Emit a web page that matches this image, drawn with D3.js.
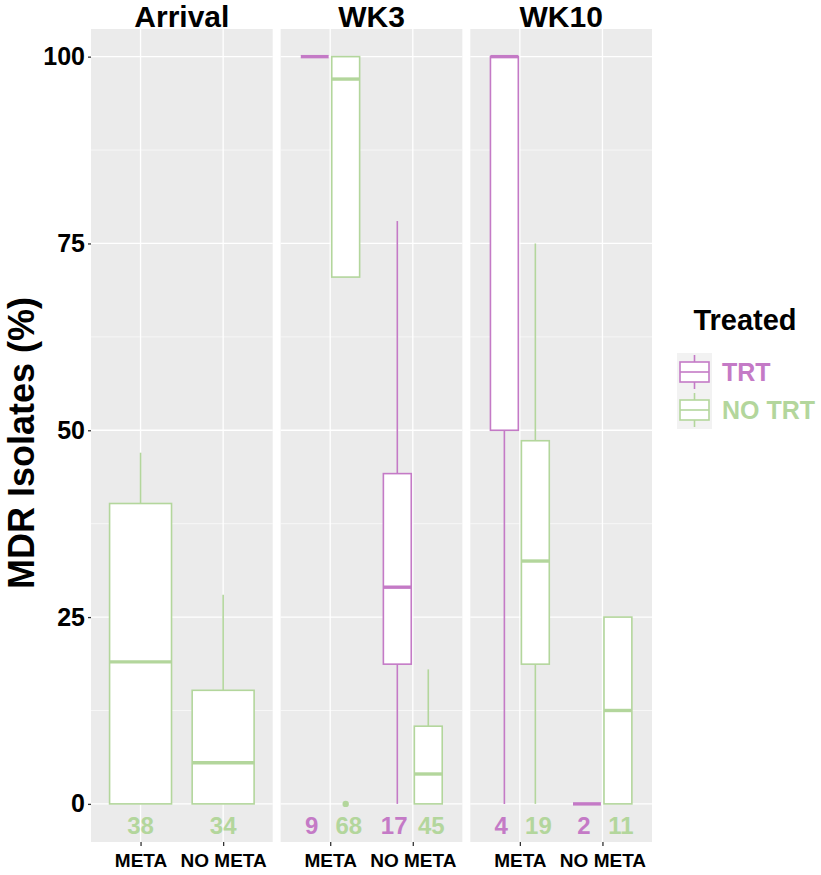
<!DOCTYPE html>
<html>
<head>
<meta charset="utf-8">
<script src="https://cdn.jsdelivr.net/npm/d3@7"></script>
<style>
  body { margin: 0; background: #fff; }
  svg text { font-family: "Liberation Sans", Arial, sans-serif; font-weight: bold; }
</style>
</head>
<body>
<div id="chart"></div>
<script>
const facets = ["Arrival", "WK3", "WK10"]
const categories = ["META", "NO META"]
const groups = ["TRT", "NO TRT"]
const yMajor = [0, 25, 50, 75, 100]
const yMinor = [12.5, 37.5, 62.5, 87.5]

// one entry per box
const boxFacet = ["Arrival", "Arrival", "WK3", "WK3", "WK3", "WK3", "WK10", "WK10", "WK10", "WK10"]
const boxCategory = ["META", "NO META", "META", "META", "NO META", "NO META", "META", "META", "NO META", "NO META"]
const boxGroup = ["NO TRT", "NO TRT", "TRT", "NO TRT", "TRT", "NO TRT", "TRT", "NO TRT", "TRT", "NO TRT"]
const boxLow = [0, 0, 100, 70.5, 0, 0, 0, 0, 0, 0]
const boxQ1 = [0, 0, 100, 70.5, 18.7, 0, 50, 18.7, 0, 0]
const boxMedian = [19, 5.5, 100, 97, 29, 4, 100, 32.5, 0, 12.5]
const boxQ3 = [40.2, 15.2, 100, 100, 44.2, 10.4, 100, 48.6, 0, 25]
const boxHigh = [47, 28, 100, 100, 78, 18, 100, 75, 0, 25]
const boxN = [38, 34, 9, 68, 17, 45, 4, 19, 2, 11]

// outliers
const outFacet = ["WK3"]
const outCategory = ["META"]
const outGroup = ["NO TRT"]
const outValue = [0]

const colors = { "TRT": "#c47ac6", "NO TRT": "#b3d69c" }

const width = 821
const height = 875

const svg = d3.select("#chart")
  .append("svg")
  .attr("width", width)
  .attr("height", height)

const facetX = d3.scaleBand()
  .domain(facets)
  .range([91, 652])
  .paddingInner(0.042)

const bw = facetX.bandwidth()

const y = d3.scaleLinear()
  .domain([-5.1, 103.7])
  .range([842, 29])

// discrete x inside a panel, ggplot style (positions 1,2 with 0.6 expansion)
const xPos = d3.scaleLinear()
  .domain([0.4, 2.6])
  .range([0, bw])

const unit = xPos(1) - xPos(0)

const boxes = boxFacet.map((f, i) => ({
  facet: f, cat: boxCategory[i], group: boxGroup[i],
  low: boxLow[i], q1: boxQ1[i], med: boxMedian[i], q3: boxQ3[i], high: boxHigh[i], n: boxN[i]
}))

// dodge: if both groups share a slot, split the 0.75 width
function slot(d) {
  const shared = boxes.filter(b => b.facet === d.facet && b.cat === d.cat)
  const c = xPos(categories.indexOf(d.cat) + 1)
  if (shared.length < 2) return { cx: c, w: 0.75 * unit, lab: c }
  const k = groups.indexOf(d.group) === 0 ? -1 : 1
  return { cx: c + k * 0.1875 * unit, w: 0.375 * 0.9 * unit, lab: c + k * 0.225 * unit }
}

facets.forEach(f => {
  const g = svg.append("g").attr("transform", `translate(${facetX(f)},0)`)

  g.append("rect")
    .attr("x", 0).attr("y", y.range()[1])
    .attr("width", bw).attr("height", y.range()[0] - y.range()[1])
    .attr("fill", "#ebebeb")

  g.selectAll(".minor")
    .data(yMinor)
    .join("line")
    .attr("x1", 0).attr("x2", bw)
    .attr("y1", d => y(d)).attr("y2", d => y(d))
    .attr("stroke", "#fff").attr("stroke-width", 0.6)

  g.selectAll(".major")
    .data(yMajor)
    .join("line")
    .attr("x1", 0).attr("x2", bw)
    .attr("y1", d => y(d)).attr("y2", d => y(d))
    .attr("stroke", "#fff").attr("stroke-width", 1.3)

  g.selectAll(".vgrid")
    .data(categories)
    .join("line")
    .attr("x1", (d, i) => xPos(i + 1)).attr("x2", (d, i) => xPos(i + 1))
    .attr("y1", y.range()[1]).attr("y2", y.range()[0])
    .attr("stroke", "#fff").attr("stroke-width", 1.3)

  // strip title
  g.append("text")
    .attr("x", bw / 2).attr("y", 27)
    .attr("text-anchor", "middle")
    .attr("font-size", "30px")
    .attr("fill", "#000")
    .text(f)

  // x axis
  const xAxis = d3.axisBottom(xPos)
    .tickValues([1, 2])
    .tickFormat(d => categories[d - 1])
    .tickSize(4)
    .tickPadding(8)

  const ax = g.append("g")
    .attr("transform", `translate(0,${y.range()[0]})`)
    .call(xAxis)
  ax.select(".domain").remove()
  ax.selectAll(".tick line").attr("stroke", "#333").attr("stroke-width", 1.3)
  ax.selectAll(".tick text")
    .attr("font-size", "19px")
    .attr("fill", "#000")
    .attr("font-family", "'Liberation Sans', Arial, sans-serif")
    .attr("font-weight", "bold")

  const fb = boxes.filter(b => b.facet === f)

  const bg = g.selectAll(".box")
    .data(fb)
    .join("g")
    .attr("stroke", d => colors[d.group])
    .attr("fill", "none")

  // whiskers
  bg.append("line")
    .attr("x1", d => slot(d).cx).attr("x2", d => slot(d).cx)
    .attr("y1", d => y(d.q3)).attr("y2", d => y(d.high))
    .attr("stroke-width", 1.6)
  bg.append("line")
    .attr("x1", d => slot(d).cx).attr("x2", d => slot(d).cx)
    .attr("y1", d => y(d.q1)).attr("y2", d => y(d.low))
    .attr("stroke-width", 1.6)

  bg.append("rect")
    .attr("x", d => slot(d).cx - slot(d).w / 2)
    .attr("width", d => slot(d).w)
    .attr("y", d => y(d.q3))
    .attr("height", d => y(d.q1) - y(d.q3))
    .attr("fill", "#fff")
    .attr("stroke-width", 1.6)

  bg.append("line")
    .attr("x1", d => slot(d).cx - slot(d).w / 2)
    .attr("x2", d => slot(d).cx + slot(d).w / 2)
    .attr("y1", d => y(d.med)).attr("y2", d => y(d.med))
    .attr("stroke-width", 3.4)

  // outliers
  outFacet.forEach((of, i) => {
    if (of !== f) return
    const b = fb.find(d => d.cat === outCategory[i] && d.group === outGroup[i])
    g.append("circle")
      .attr("cx", slot(b).cx)
      .attr("cy", y(outValue[i]))
      .attr("r", 3.2)
      .attr("fill", colors[outGroup[i]])
  })

  // counts
  g.selectAll(".count")
    .data(fb)
    .join("text")
    .attr("x", d => slot(d).lab)
    .attr("y", y(-2.9))
    .attr("dy", "0.36em")
    .attr("text-anchor", "middle")
    .attr("font-size", "24px")
    .attr("fill", d => colors[d.group])
    .text(d => d.n)
})

// y axis
const yAxis = d3.axisLeft(y)
  .tickValues(yMajor)
  .tickSize(3)
  .tickPadding(3)

const ay = svg.append("g")
  .attr("transform", `translate(${facetX(facets[0])},0)`)
  .call(yAxis)
ay.select(".domain").remove()
ay.selectAll(".tick line").attr("stroke", "#333").attr("stroke-width", 1.3)
ay.selectAll(".tick text")
  .attr("font-size", "25px")
  .attr("fill", "#000")
  .attr("font-family", "'Liberation Sans', Arial, sans-serif")
  .attr("font-weight", "bold")

svg.append("text")
  .attr("transform", "translate(34,589) rotate(-90)")
  .attr("text-anchor", "start")
  .attr("font-size", "36px")
  .attr("fill", "#000")
  .text("MDR Isolates (%)")

// legend
const legend = svg.append("g").attr("transform", "translate(677,0)")

legend.append("text")
  .attr("x", 68).attr("y", 330)
  .attr("text-anchor", "middle")
  .attr("font-size", "29px")
  .attr("fill", "#000")
  .text("Treated")

legend.append("rect")
  .attr("x", 0).attr("y", 353)
  .attr("width", 35).attr("height", 76)
  .attr("fill", "#f2f2f2")

groups.forEach((gname, i) => {
  const cy = 372 + i * 38
  const k = legend.append("g").attr("stroke", colors[gname]).attr("fill", "none")
  k.append("line").attr("x1", 17.5).attr("x2", 17.5).attr("y1", cy - 17).attr("y2", cy + 17).attr("stroke-width", 1.6)
  k.append("rect").attr("x", 3).attr("y", cy - 10).attr("width", 29).attr("height", 20)
    .attr("fill", "#fff").attr("stroke-width", 1.6)
  k.append("line").attr("x1", 3).attr("x2", 32).attr("y1", cy).attr("y2", cy).attr("stroke-width", 1.6)

  legend.append("text")
    .attr("x", 45).attr("y", cy)
    .attr("dy", "0.36em")
    .attr("font-size", "25px")
    .attr("fill", colors[gname])
    .text(gname)
})
</script>
</body>
</html>
